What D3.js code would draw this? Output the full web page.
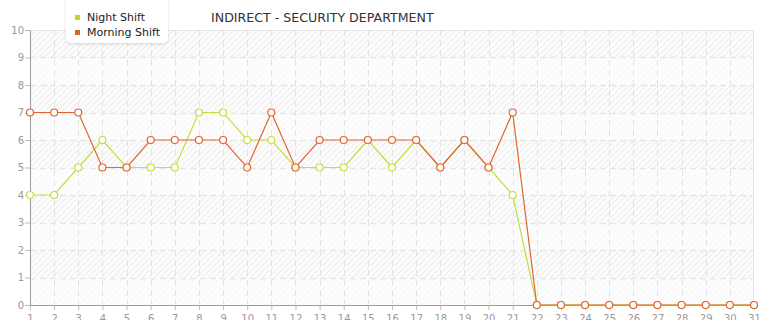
<!DOCTYPE html>
<html>
<head>
<meta charset="utf-8">
<script src="https://cdn.jsdelivr.net/npm/d3@7"></script>
<style>
  body { margin: 0; background: #fff; }
  svg { display: block; font-family: "DejaVu Sans", Verdana, sans-serif; }
</style>
</head>
<body>
<svg id="drawing_region"></svg>
<script>
const days = d3.range(1, 32);
const nightShift = [4, 4, 5, 6, 5, 5, 5, 7, 7, 6, 6, 5, 5, 5, 6, 5, 6, 5, 6, 5, 4, 0, 0, 0, 0, 0, 0, 0, 0, 0, 0];
const morningShift = [7, 7, 7, 5, 5, 6, 6, 6, 6, 5, 7, 5, 6, 6, 6, 6, 6, 5, 6, 5, 7, 0, 0, 0, 0, 0, 0, 0, 0, 0, 0];
const yTicks = [0, 1, 2, 3, 4, 5, 6, 7, 8, 9, 10];
const seriesNames = ['Night Shift', 'Morning Shift'];
const seriesColors = ['#c3df3c', '#e2652f'];
const legendColors = ['#b8db2a', '#e0602c'];
const title = 'INDIRECT - SECURITY DEPARTMENT';

const width = 765, height = 320;
const margin = {top: 30, right: 11, bottom: 15, left: 30};
const inner_width = width - margin.left - margin.right;
const inner_height = height - margin.top - margin.bottom;

const svg = d3.select('#drawing_region')
    .attr('width', width)
    .attr('height', height);

// hatch pattern for plot background
const defs = svg.append('defs');
const pat = defs.append('pattern')
    .attr('id', 'hatch')
    .attr('patternUnits', 'userSpaceOnUse')
    .attr('width', 6)
    .attr('height', 6);
pat.append('rect').attr('width', 6).attr('height', 6).attr('fill', '#fbfbfb');
pat.append('path')
    .attr('d', 'M-1,7 L7,-1 M-1,1 L1,-1 M5,7 L7,5')
    .attr('stroke', '#eaeaea')
    .attr('stroke-width', 1);

const shadow = defs.append('filter').attr('id', 'shadow')
    .attr('x', '-20%').attr('y', '-20%').attr('width', '140%').attr('height', '160%');
shadow.append('feDropShadow')
    .attr('dx', 0).attr('dy', 1).attr('stdDeviation', 1.5)
    .attr('flood-color', '#000').attr('flood-opacity', 0.15);

const chart = svg.append('g')
    .attr('transform', `translate(${margin.left}, ${margin.top})`);

const xscale = d3.scaleLinear()
    .domain([1, 31])
    .range([0, inner_width]);

const yscale = d3.scaleLinear()
    .domain([0, 10])
    .range([inner_height, 0]);

chart.append('rect')
    .attr('width', inner_width)
    .attr('height', inner_height)
    .attr('fill', 'url(#hatch)');

// alternating lighter bands
chart.selectAll('.band')
    .data(yTicks.filter(d => d < 10 && d % 2 === 1))
    .enter()
    .append('rect')
    .attr('class', 'band')
    .attr('x', 0)
    .attr('y', d => yscale(d))
    .attr('width', inner_width)
    .attr('height', d => yscale(d - 1) - yscale(d))
    .attr('fill', '#ffffff')
    .attr('fill-opacity', 0.55);

// frame top / right
chart.append('path')
    .attr('d', `M0,0.5 H${inner_width - 0.5} V${inner_height}`)
    .attr('fill', 'none')
    .attr('stroke', '#e6e6e6');

// grid
chart.selectAll('.vgrid')
    .data(days.slice(1, -1))
    .enter()
    .append('line')
    .attr('x1', d => Math.round(xscale(d)) + 0.5)
    .attr('x2', d => Math.round(xscale(d)) + 0.5)
    .attr('y1', 0)
    .attr('y2', inner_height)
    .attr('stroke', '#e2e2e2')
    .attr('stroke-dasharray', '6,4');

chart.selectAll('.hgrid')
    .data(yTicks.slice(1, -1))
    .enter()
    .append('line')
    .attr('x1', 0)
    .attr('x2', inner_width)
    .attr('y1', d => Math.round(yscale(d)) + 0.5)
    .attr('y2', d => Math.round(yscale(d)) + 0.5)
    .attr('stroke', '#e6e6e6')
    .attr('stroke-width', 1.5)
    .attr('stroke-dasharray', '6,4');

// axes
const xaxis = d3.axisBottom(xscale)
    .tickValues(days)
    .tickFormat(d3.format('d'))
    .tickSize(5)
    .tickSizeOuter(0);

const yaxis = d3.axisLeft(yscale)
    .tickValues(yTicks)
    .tickFormat(d3.format('d'))
    .tickSize(5)
    .tickSizeOuter(0);

const xg = chart.append('g')
    .attr('transform', `translate(0, ${inner_height})`)
    .call(xaxis);
const yg = chart.append('g').call(yaxis);

[xg, yg].forEach(g => {
    g.select('.domain').attr('stroke', '#999');
    g.selectAll('.tick line').attr('stroke', '#bbb');
    g.selectAll('.tick text')
        .attr('fill', '#999')
        .attr('font-size', '10px')
        .attr('font-family', '"DejaVu Sans", Verdana, sans-serif');
});
xg.selectAll('.tick text').attr('dy', '0.95em').attr('y', 7);
yg.selectAll('.tick text').attr('x', -6);

// series
const allSeries = [nightShift, morningShift];
const line = d3.line()
    .x((d, i) => xscale(days[i]))
    .y(d => yscale(d));

allSeries.forEach((s, k) => {
    chart.append('path')
        .datum(s)
        .attr('fill', 'none')
        .attr('stroke', seriesColors[k])
        .attr('stroke-width', 1.2)
        .attr('d', line);
});

allSeries.forEach((s, k) => {
    chart.selectAll('.pt' + k)
        .data(s)
        .enter()
        .append('circle')
        .attr('cx', (d, i) => xscale(days[i]))
        .attr('cy', d => yscale(d))
        .attr('r', 3.5)
        .attr('fill', '#fff')
        .attr('stroke', seriesColors[k])
        .attr('stroke-width', 1.2);
});

// legend
const legend = svg.append('g');
legend.append('rect')
    .attr('x', 66)
    .attr('y', -8)
    .attr('width', 102)
    .attr('height', 51)
    .attr('rx', 5)
    .attr('fill', '#fff')
    .attr('filter', 'url(#shadow)');

seriesNames.forEach((name, k) => {
    legend.append('rect')
        .attr('x', 75)
        .attr('y', 15 + k * 15)
        .attr('width', 5)
        .attr('height', 5)
        .attr('fill', legendColors[k]);
    legend.append('text')
        .attr('x', 87)
        .attr('y', 21 + k * 15)
        .attr('font-size', '11px')
        .attr('fill', '#222')
        .text(name);
});

svg.append('text')
    .attr('x', 211)
    .attr('y', 22)
    .attr('font-size', '12.6px')
    .attr('fill', '#333')
    .text(title);
</script>
</body>
</html>
